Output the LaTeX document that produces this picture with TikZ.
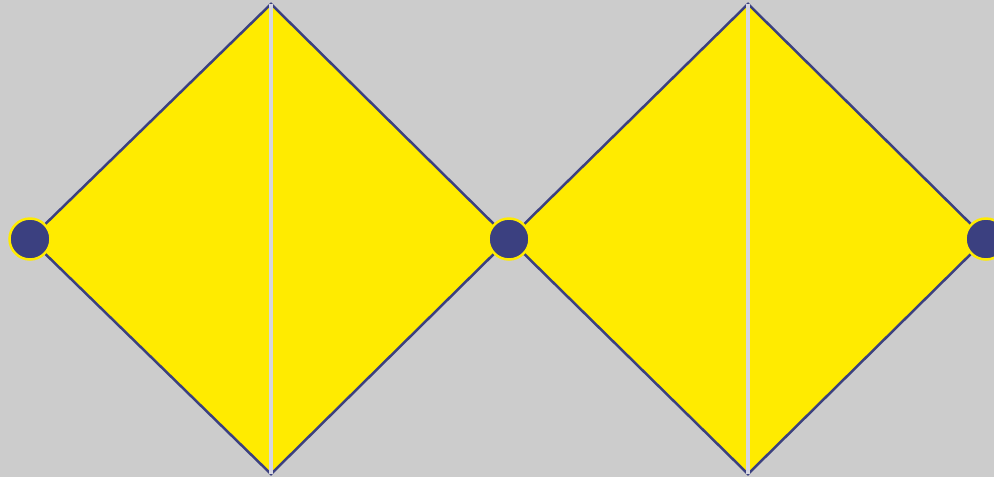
\documentclass[tikz,border=0pt]{standalone}
\usepackage{xcolor}
\usepackage{tikz}
\usetikzlibrary{calc}
\definecolor{bg}{HTML}{CCCCCC}
\definecolor{sun}{HTML}{FFEB00}
\definecolor{ink}{HTML}{3B4080}
\definecolor{seam}{HTML}{D6D6E0}
\tikzset{
  face/.style={fill=sun, draw=none},
  rim/.style={draw=ink, line width=0.05cm, line cap=round},
  midline/.style={draw=seam, line width=0.08cm},
  knot/.style={circle, fill=ink, draw=sun, line width=0.05cm, minimum size=0.82cm, inner sep=0pt},
}
% one diamond: name, left x, centre x, right x
\newcommand{\kite}[4]{%
  \coordinate (#1l) at (#2,239);
  \coordinate (#1t) at (#3,4);
  \coordinate (#1r) at (#4,239);
  \coordinate (#1b) at (#3,474);
  \fill[face] (#1l) -- (#1t) -- (#1r) -- (#1b) -- cycle;
  \draw[rim] (#1l) -- (#1t) -- (#1r) -- (#1b) -- cycle;
  \draw[midline] (#1t) -- (#1b);}

\begin{document}
\begin{tikzpicture}[x=0.02cm,y=-0.02cm]
  \fill[bg] (0,0) rectangle (994,477);
  \useasboundingbox (0,0) rectangle (994,477);
  \kite{a}{30}{271}{509}
  \kite{b}{509}{748}{986}
  \node[knot] (k1) at (al) {};
  \node[knot] (k2) at (ar) {};
  \node[knot] (k3) at (br) {};
\end{tikzpicture}
\end{document}
